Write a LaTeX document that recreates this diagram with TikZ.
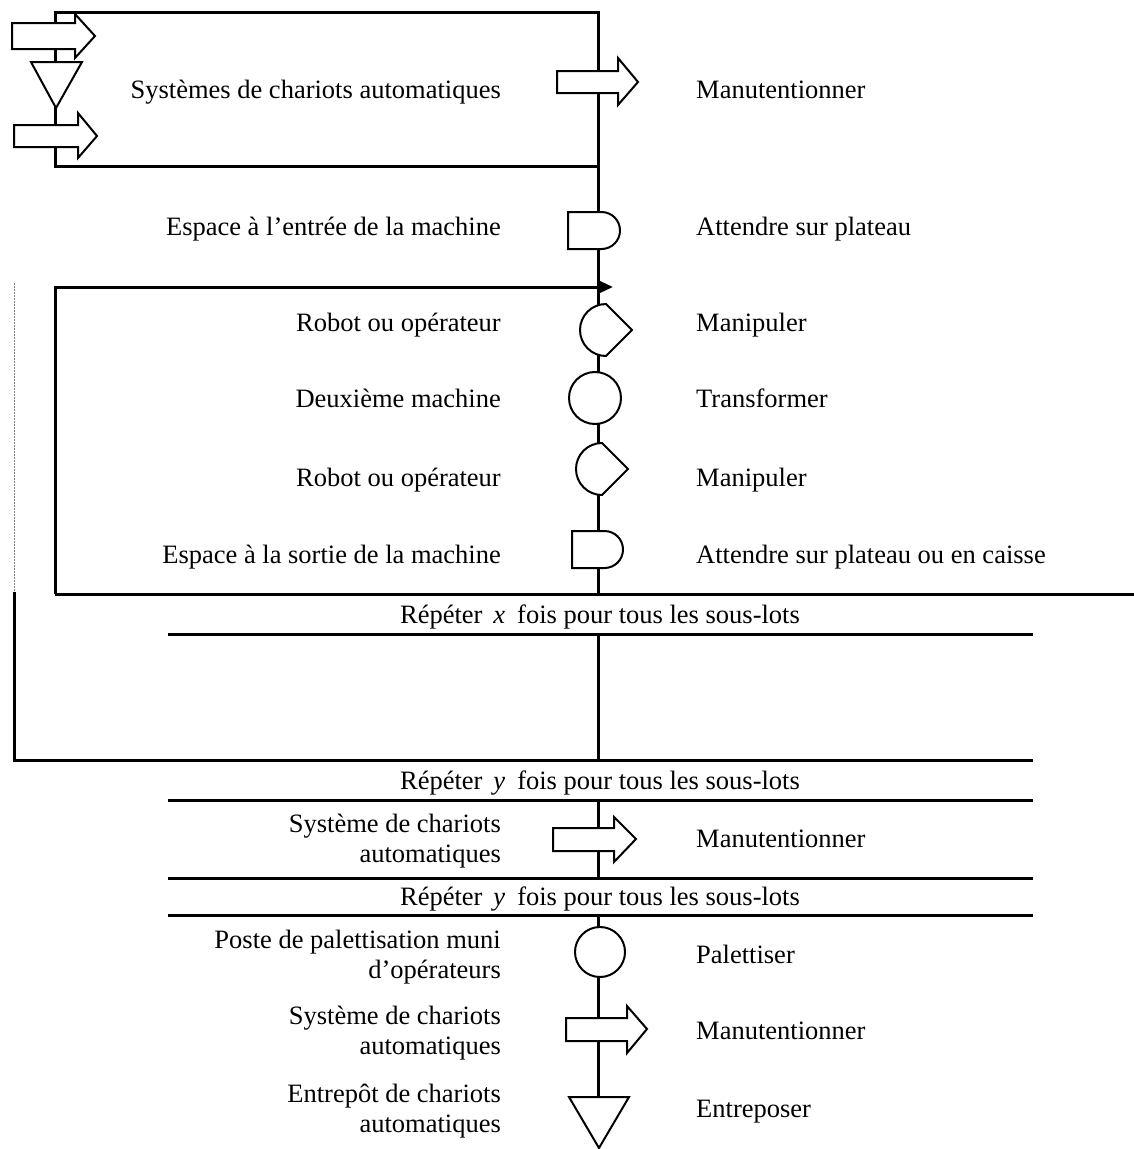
\documentclass[tikz,border=0pt]{standalone}
\usepackage{fontspec}
\setmainfont{Liberation Serif}
\usetikzlibrary{arrows.meta}
\begin{document}
\begin{tikzpicture}[x=1pt,y=-1pt,
  flow/.style={line width=3pt},
  rulel/.style={line width=3pt},
  sym/.style={line width=2pt, fill=white, line join=miter},
  txt/.style={font=\fontsize{26.5}{30}\selectfont, inner sep=0pt, yshift=-3pt},
  lab/.style={txt, anchor=east, align=right},
  act/.style={txt, anchor=west, align=left},
  one/.style={text height=18.5pt, text depth=6.5pt},
  rep/.style={txt, one, anchor=center},
]
\useasboundingbox (0,0) rectangle (1134,1149);

% ---- main flow line (connectors between named points)
\coordinate (top) at (598,12);
\coordinate (xTop) at (598,594);
\coordinate (xBot) at (598,634);
\coordinate (yTop) at (598,760);
\coordinate (yBot) at (598,800);
\coordinate (ytTop) at (598,878);
\coordinate (ytBot) at (598,915);
\coordinate (store) at (598,1097);
\coordinate (ret) at (613,287);

\draw[flow] (top) -- (xTop);
\draw[flow] (xBot) -- (yTop);
\draw[flow] (yBot) -- (ytTop);
\draw[flow] (ytBot) -- (store);

% top box
\draw[flow] (55,12) rectangle (598,166);

% inner loop
\draw[flow,-{Triangle[length=15pt,width=13pt]}] (55,594) -- (55,287) -- (ret);
\draw[rulel] (55,594) -- (1134,594);
% outer loop
\draw[line width=1pt, gray, dash pattern=on 1.5pt off 1.5pt] (14,283) -- (14,592);
\draw[flow] (14,592) -- (14,760) -- (1033,760);
% rules
\draw[rulel] (168,634) -- (1033,634);
\draw[rulel] (168,800) -- (1033,800);
\draw[rulel] (168,878) -- (1033,878);
\draw[rulel] (168,915) -- (1033,915);

% ---- symbols
% left arrows and triangle of the box
\draw[sym] (12,23) -- (75,23) -- (75,14) -- (95,36) -- (75,58) -- (75,49) -- (12,49) -- cycle;
\draw[sym] (31,62) -- (82,62) -- (56,108) -- cycle;
\draw[sym] (14,125) -- (78,125) -- (78,113) -- (97,136) -- (78,158) -- (78,147) -- (14,147) -- cycle;
% transport (top)
\draw[sym] (557,71) -- (618,71) -- (618,58) -- (638,82) -- (618,105) -- (618,93) -- (557,93) -- cycle;
% delay 1
\draw[sym] (568,212) -- (601.5,212) arc (-90:90:18.5) -- (568,249) -- cycle;
% manipulation 1
\draw[sym] (606,304) arc (-90:-270:26) -- (632,330) -- cycle;
% operation
\draw[sym] (595,398) circle[radius=26];
% manipulation 2
\draw[sym] (602,443) arc (-90:-270:26) -- (628,469) -- cycle;
% delay 2
\draw[sym] (572,531) -- (604.5,531) arc (-90:90:18.5) -- (572,568) -- cycle;
% transport 2
\draw[sym] (553,828) -- (614,828) -- (614,817) -- (636,839) -- (614,862) -- (614,851) -- (553,851) -- cycle;
% palettiser
\draw[sym] (600,952) circle[radius=25];
% transport 3
\draw[sym] (566,1018) -- (627,1018) -- (627,1006) -- (647,1029) -- (627,1053) -- (627,1041) -- (566,1041) -- cycle;
% storage
\draw[sym] (569,1097) -- (629,1097) -- (599,1148) -- cycle;

% ---- texts
\node[lab,one] (l1) at (501,89) {Systèmes de chariots automatiques};
\node[act,one] (r1) at (696,89) {Manutentionner};
\node[lab,one] (l2) at (501,226) {Espace à l’entrée de la machine};
\node[act,one] (r2) at (696,226) {Attendre sur plateau};
\node[lab,one] (l3) at (501,322) {Robot ou opérateur};
\node[act,one] (r3) at (696,322) {Manipuler};
\node[lab,one] (l4) at (501,398) {Deuxième machine};
\node[act,one] (r4) at (696,398) {Transformer};
\node[lab,one] (l5) at (501,477) {Robot ou opérateur};
\node[act,one] (r5) at (696,477) {Manipuler};
\node[lab,one] (l6) at (501,554) {Espace à la sortie de la machine};
\node[act,one] (r6) at (696,554) {Attendre sur plateau ou en caisse};

\node[rep] (rx) at (600,614) {Répéter\hspace{11pt}\textit{x}\hspace{12pt}fois pour tous les sous-lots};
\node[rep] (ry1) at (600,780) {Répéter\hspace{11pt}\textit{y}\hspace{12pt}fois pour tous les sous-lots};
\node[lab] (l7) at (501,838) {Système de chariots\\automatiques};
\node[act,one] (r7) at (696,838) {Manutentionner};
\node[rep] (ry2) at (600,896) {Répéter\hspace{11pt}\textit{y}\hspace{12pt}fois pour tous les sous-lots};
\node[lab] (l8) at (501,954) {Poste de palettisation muni\\d’opérateurs};
\node[act,one] (r8) at (696,954) {Palettiser};
\node[lab] (l9) at (501,1030) {Système de chariots\\automatiques};
\node[act,one] (r9) at (696,1030) {Manutentionner};
\node[lab] (l10) at (501,1108) {Entrepôt de chariots\\automatiques};
\node[act,one] (r10) at (696,1108) {Entreposer};
\end{tikzpicture}
\end{document}
